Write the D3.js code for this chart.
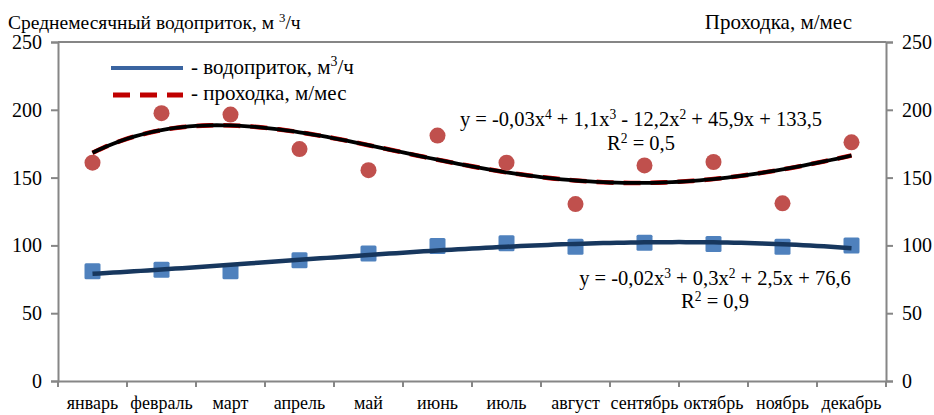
<!DOCTYPE html>
<html>
<head>
<meta charset="utf-8">
<script src="https://cdn.jsdelivr.net/npm/d3@7"></script>
<style>
  body { margin: 0; background: #fff; }
  svg text { fill: #000; }
</style>
</head>
<body>
<div id="chart"></div>
<script>
// Data
const months = ['январь', 'февраль', 'март', 'апрель', 'май', 'июнь',
    'июль', 'август', 'сентябрь', 'октябрь', 'ноябрь', 'декабрь'];
const inflow = [81, 82, 81, 89, 94, 99.5, 101.5, 99, 102, 101, 99, 100];      // водоприток, м3/ч
const advance = [161, 197.5, 196.5, 171, 155.5, 181, 161, 130.5, 159, 161.5, 131, 176]; // проходка, м/мес
const yTicks = [0, 50, 100, 150, 200, 250];

const FONT = "Liberation Serif, Tinos, Noto Serif, DejaVu Serif, FreeSerif, Nimbus Roman, Times New Roman, Times, serif";

const width = 934, height = 415;
const margin = { top: 42, right: 48, bottom: 34, left: 58 };
const plotW = width - margin.left - margin.right;
const plotH = height - margin.top - margin.bottom;

const svg = d3.select('#chart').append('svg')
    .attr('width', width)
    .attr('height', height)
    .style('font-family', FONT);

const g = svg.append('g')
    .attr('transform', `translate(${margin.left},${margin.top})`);

const x = d3.scaleBand().domain(months).range([0, plotW]);
const y = d3.scaleLinear().domain([0, 250]).range([plotH, 0]);
const xc = m => x(m) + x.bandwidth() / 2;

// least squares polynomial fit, like the spreadsheet trendline
function polyFit(values, degree) {
    const n = degree + 1;
    const A = Array.from({ length: n }, () => new Array(n + 1).fill(0));
    values.forEach((v, i) => {
        const t = i + 1;
        for (let r = 0; r < n; r++) {
            for (let c = 0; c < n; c++) A[r][c] += Math.pow(t, r + c);
            A[r][n] += v * Math.pow(t, r);
        }
    });
    for (let i = 0; i < n; i++) {
        let p = i;
        for (let k = i + 1; k < n; k++) if (Math.abs(A[k][i]) > Math.abs(A[p][i])) p = k;
        [A[i], A[p]] = [A[p], A[i]];
        for (let k = i + 1; k < n; k++) {
            const f = A[k][i] / A[i][i];
            for (let c = i; c <= n; c++) A[k][c] -= f * A[i][c];
        }
    }
    const coef = new Array(n).fill(0);
    for (let i = n - 1; i >= 0; i--) {
        let s = A[i][n];
        for (let c = i + 1; c < n; c++) s -= A[i][c] * coef[c];
        coef[i] = s / A[i][i];
    }
    return t => coef.reduce((acc, a, k) => acc + a * Math.pow(t, k), 0);
}

// index scale for the trend curves (1..12 at band centres)
const xt = d3.scaleLinear().domain([1, 12]).range([xc(months[0]), xc(months[11])]);
const ts = d3.range(1, 12.001, 0.1);
const trendLine = f => d3.line().x(t => xt(t)).y(t => y(f(t)))(ts);

const axisColor = '#868686';

// plot frame
g.append('line').attr('x1', 0).attr('x2', plotW).attr('y1', 0).attr('y2', 0)
    .attr('stroke', axisColor).attr('stroke-width', 2);

// left axis
const left = g.append('g').call(d3.axisLeft(y).tickValues(yTicks).tickSize(7).tickPadding(9));
// right axis
const right = g.append('g').attr('transform', `translate(${plotW},0)`)
    .call(d3.axisRight(y).tickValues(yTicks).tickSize(7).tickPadding(9));
// bottom axis, ticks between categories
const bottom = g.append('g').attr('transform', `translate(0,${plotH})`)
    .call(d3.axisBottom(x).tickSize(0).tickPadding(15));

[left, right, bottom].forEach(a => {
    a.attr('font-family', null);
    a.select('.domain').attr('stroke', axisColor).attr('stroke-width', 2);
    a.selectAll('.tick line').attr('stroke', axisColor).attr('stroke-width', 2);
    a.selectAll('text').style('font-family', FONT).style('font-size', '20px');
});
bottom.selectAll('text').style('font-size', '18px');
bottom.selectAll('.boundary')
    .data(d3.range(months.length + 1))
    .enter().append('line')
    .attr('x1', i => i * x.bandwidth()).attr('x2', i => i * x.bandwidth())
    .attr('y1', 0).attr('y2', 6)
    .attr('stroke', axisColor).attr('stroke-width', 2);

// trend curves
const fAdv = polyFit(advance, 4);
const fIn = polyFit(inflow, 3);

g.append('path').attr('d', trendLine(fAdv))
    .attr('fill', 'none').attr('stroke', '#e00000').attr('stroke-width', 4.6)
    .attr('stroke-dasharray', '17,10');
g.append('path').attr('d', trendLine(fAdv))
    .attr('fill', 'none').attr('stroke', '#000').attr('stroke-width', 3.8);

// markers
g.selectAll('.sq').data(inflow).enter().append('rect')
    .attr('x', (d, i) => xc(months[i]) - 8)
    .attr('y', d => y(d) - 8)
    .attr('width', 16).attr('height', 16).attr('rx', 1.5)
    .attr('fill', '#4f81bd');

g.selectAll('.dot').data(advance).enter().append('circle')
    .attr('cx', (d, i) => xc(months[i]))
    .attr('cy', d => y(d))
    .attr('r', 8)
    .attr('fill', '#c0504d');

g.append('path').attr('d', trendLine(fIn))
    .attr('fill', 'none').attr('stroke', '#17375e').attr('stroke-width', 4.5);

// text with superscripts: parts = [[text, sup?], ...]
function richText(parent, px, py, parts, size, anchor) {
    const t = parent.append('text').attr('x', px).attr('y', py)
        .attr('text-anchor', anchor || 'start')
        .style('font-family', FONT)
        .style('font-size', size + 'px');
    const lift = size * 0.36;
    let raised = false;
    parts.forEach(([s, sup]) => {
        const dy = sup ? (raised ? 0 : -lift) : (raised ? lift : 0);
        raised = !!sup;
        t.append('tspan').text(s)
            .attr('dy', dy)
            .style('font-size', (sup ? size * 0.66 : size) + 'px');
    });
    return t;
}

// titles
richText(svg, 8, 29, [['Среднемесячный водоприток, м  '], ['3', true], ['/ч']], 19.5);
svg.append('text').attr('x', 852).attr('y', 29).attr('text-anchor', 'end')
    .style('font-family', FONT).style('font-size', '21px').text('Проходка, м/мес');

// legend
svg.append('line').attr('x1', 111).attr('x2', 183).attr('y1', 68).attr('y2', 68)
    .attr('stroke', '#3a64a0').attr('stroke-width', 4);
richText(svg, 191, 74, [['- водоприток,  м'], ['3', true], ['/ч']], 21);
svg.append('line').attr('x1', 113).attr('x2', 183).attr('y1', 95).attr('y2', 95)
    .attr('stroke', '#c00000').attr('stroke-width', 5).attr('stroke-dasharray', '17,10');
richText(svg, 191, 100, [['- проходка, м/мес']], 21);

// trend equations
richText(svg, 641, 126, [['y = -0,03x'], ['4', true], [' + 1,1x'], ['3', true], [' - 12,2x'], ['2', true], [' + 45,9x + 133,5']], 20.5, 'middle');
richText(svg, 641, 150, [['R'], ['2', true], [' = 0,5']], 20.5, 'middle');
richText(svg, 715, 285, [['y = -0,02x'], ['3', true], [' + 0,3x'], ['2', true], [' + 2,5x + 76,6']], 20.5, 'middle');
richText(svg, 715, 308, [['R'], ['2', true], [' = 0,9']], 20.5, 'middle');
</script>
</body>
</html>
